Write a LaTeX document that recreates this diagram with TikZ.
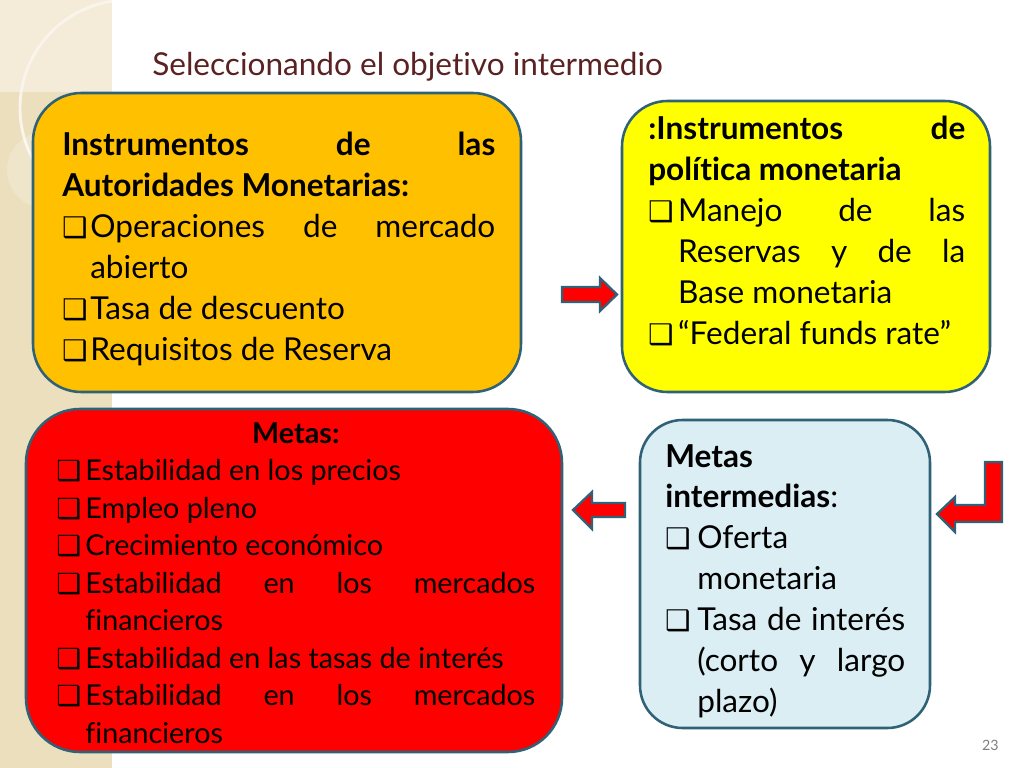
\documentclass[tikz,border=0pt]{standalone}
\usepackage{fontspec}
\setmainfont{Lato}[Ligatures={NoCommon}]
\newfontfamily\dvfont{DejaVu Sans}
\definecolor{boxedge}{HTML}{2F6276}
\definecolor{orangefill}{HTML}{FFC000}
\definecolor{yellowfill}{HTML}{FFFF00}
\definecolor{redfill}{HTML}{FF0000}
\definecolor{bluefill}{HTML}{DBEEF4}
\definecolor{titlecol}{HTML}{5A2222}
\definecolor{stripdark}{HTML}{ECDFBE}
\definecolor{striplight}{HTML}{F4ECD9}
\newcommand\chk[1]{\smash{\dvfont\fontsize{#1}{#1}\selectfont ❑}}
\newcommand\itm[3]{\par\hangindent=#1\hangafter=1\noindent\makebox[#1][l]{\chk{#2}}#3\par}
\def\u{0.703125pt}
\tikzset{
  panel/.style={draw=boxedge, line width=1.8pt, rounded corners=#1, inner sep=0pt},
  bodytext/.style={anchor=base west, inner sep=0pt, align=justify, text=black},
  blockarrow/.style={fill=redfill, draw=boxedge, line width=1.6pt, line join=miter}
}
\begin{document}
\begin{tikzpicture}[x=0.703125pt,y=-0.703125pt]
\useasboundingbox (0,0) rectangle (1024,768);
\fill[white] (0,0) rectangle (1024,768);
% left decorative strip
\fill[stripdark] (0,0) rectangle (112,768);
\fill[striplight] (0,0) rectangle (112,92);
\begin{scope}
\clip (0,0) rectangle (112,768);
\draw[white!70!stripdark, line width=2pt] (128,108) circle (108);
\fill[white, opacity=0.2] (45,170) circle (38);
\end{scope}
% title
\node[anchor=base west, inner sep=0pt, text=titlecol, font=\fontsize{22.2}{26}\selectfont] (title) at (152,76) {Seleccionando el objetivo intermedio};
% panels
\node[panel=34pt, fill=orangefill, minimum width=488*\u, minimum height=299*\u] (b1) at (277,242.5) {};
\node[panel=32pt, fill=yellowfill, minimum width=368*\u, minimum height=291*\u] (b2) at (806,246.5) {};
\node[panel=38pt, fill=redfill, minimum width=536*\u, minimum height=343*\u] (b3) at (294,580.5) {};
\node[panel=30pt, fill=bluefill, minimum width=290*\u, minimum height=308*\u] (b4) at (785,574) {};
% texts
\node[bodytext, text width=433*\u, font=\fontsize{22.2}{28.8}\selectfont] (t1) at (62,156) {%
\noindent\textbf{Instrumentos de las\linebreak Autoridades Monetarias:}\par
\itm{19.7pt}{20}{Operaciones de mercado\linebreak abierto}
\itm{19.7pt}{20}{Tasa de descuento}
\itm{19.7pt}{20}{Requisitos de Reserva}};
\node[bodytext, text width=317*\u, font=\fontsize{22.2}{28.8}\selectfont] (t2) at (648,140) {%
\noindent\textbf{:Instrumentos de\linebreak política monetaria}\par
\itm{21pt}{20}{Manejo de las\linebreak Reservas y de la\linebreak Base monetaria}
\itm{21pt}{20}{“Federal funds rate”}};
\node[bodytext, text width=479*\u, font=\fontsize{20.2}{26.4}\selectfont] (t3) at (56,443) {%
\noindent\makebox[\linewidth]{\textbf{Metas:}}\par
\itm{20.4pt}{19.5}{Estabilidad en los precios}
\itm{20.4pt}{19.5}{Empleo pleno}
\itm{20.4pt}{19.5}{Crecimiento económico}
\itm{20.4pt}{19.5}{Estabilidad en los mercados\linebreak financieros}
\itm{20.4pt}{19.5}{Estabilidad en las tasas de interés}
\itm{20.4pt}{19.5}{Estabilidad en los mercados\linebreak financieros}};
\node[bodytext, text width=240*\u, font=\fontsize{22.2}{28.8}\selectfont] (t4) at (665,467) {%
\noindent\textbf{Metas}\newline\textbf{intermedias}:\par
\itm{22.5pt}{20}{Oferta\newline monetaria}
\itm{22.5pt}{20}{Tasa de interés\linebreak (corto y largo\linebreak plazo)}};
% block arrows
\draw[blockarrow] (562,287) -- (600,287) -- (600,278) -- (617,294.5) -- (600,311) -- (600,302) -- (562,302) -- cycle;
\draw[blockarrow] (625,503) -- (592,503) -- (592,492) -- (573,510) -- (592,529) -- (592,517) -- (625,517) -- cycle;
\draw[blockarrow] (1002,462) -- (1002,522) -- (955,522) -- (955,532) -- (937,514) -- (955,497) -- (955,505) -- (985,505) -- (985,462) -- cycle;
% page number
\node[anchor=base east, inner sep=0pt, text=black!50, font=\fontsize{10}{12}\selectfont] (pagenum) at (999,750) {23};
\end{tikzpicture}
\end{document}
